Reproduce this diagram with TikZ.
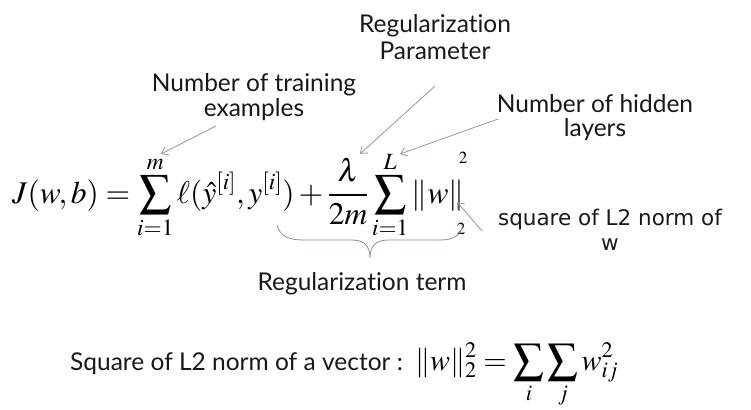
\documentclass[tikz,border=0pt]{standalone}
\usepackage{mathptmx}
\usepackage[no-math]{fontspec}
\newfontfamily\labfont[Ligatures=NoCommon]{Lato}
\newfontfamily\verdfont{DejaVu Sans}
\usetikzlibrary{arrows.meta}
\definecolor{arr}{HTML}{8C9BAA}
\definecolor{brc}{HTML}{7E93A8}
\tikzset{
  lab/.style={font=\labfont\fontsize{24.5}{28}\selectfont, inner sep=0pt, anchor=base, text=black!90},
  verd/.style={font=\verdfont\fontsize{21.5}{26}\selectfont, inner sep=0pt, anchor=base, text=black!90},
  pointer/.style={draw=arr, line width=0.8pt, -{Straight Barb[length=6pt,width=9pt]}},
  eqn/.style={inner sep=0pt, anchor=base west},
  small2/.style={inner sep=0pt, font=\fontsize{17}{20}\selectfont}
}
\begin{document}
\begin{tikzpicture}[x=1pt,y=-1pt]
\fill[white] (0,0) rectangle (751,409);
\useasboundingbox (0,0) rectangle (751,409);

% main equation
\node[eqn] (eq) at (12,203) {\fontsize{31.5}{38}\selectfont$\displaystyle J(w,b)=\sum_{i=1}^{m}\ell(\hat{y}^{[i]},y^{[i]})+\frac{\lambda}{2m}\sum_{i=1}^{L}\|w\|$};
\node[small2] (sup) at (463,158) {$2$};
\node[small2] (sub) at (461,229) {$2$};

% labels
\node[lab] (reg1) at (435,33) {Regularization};
\node[lab] (reg2) at (435,60) {Parameter};
\node[lab] (ntr1) at (254,92) {Number of training};
\node[lab] (ntr2) at (254,117) {examples};
\node[lab] (nhl1) at (595,112) {Number of hidden};
\node[lab] (nhl2) at (595,136) {layers};
\node[verd] (sq1) at (610,225) {square of L2 norm of};
\node[verd] (sq2) at (610,250) {w};
\node[lab] (rt) at (362,290) {Regularization term};

% arrow end points
\coordinate (a1s) at (216,126); \coordinate (a1e) at (161,154);
\coordinate (a2s) at (435,86);  \coordinate (a2e) at (360,154);
\coordinate (a3s) at (498,119); \coordinate (a3e) at (400,154);
\coordinate (a4s) at (482,231); \coordinate (a4e) at (457,202);
\draw[pointer] (a1s) -- (a1e);
\draw[pointer] (a2s) -- (a2e);
\draw[pointer] (a3s) -- (a3e);
\draw[pointer] (a4s) -- (a4e);

% brace
\coordinate (bl) at (277,225);
\coordinate (bt) at (370,258);
\coordinate (br) at (463,225);
\draw[brc, line width=0.8pt] (bl) .. controls (280,237) and (290,240) .. (304,240)
  -- (352,240) .. controls (364,240) and (370,246) .. (bt)
  .. controls (370,246) and (376,240) .. (388,240)
  -- (440,240) .. controls (454,240) and (461,235) .. (br);

% bottom line
\node[lab, anchor=base west] (sqv) at (70,370) {Square of L2 norm of a vector :};
\node[eqn] (eq2) at (415,370) {\fontsize{30}{36}\selectfont$\displaystyle \|w\|_2^2=\sum_{i}\sum_{j}w_{ij}^2$};
\end{tikzpicture}
\end{document}
